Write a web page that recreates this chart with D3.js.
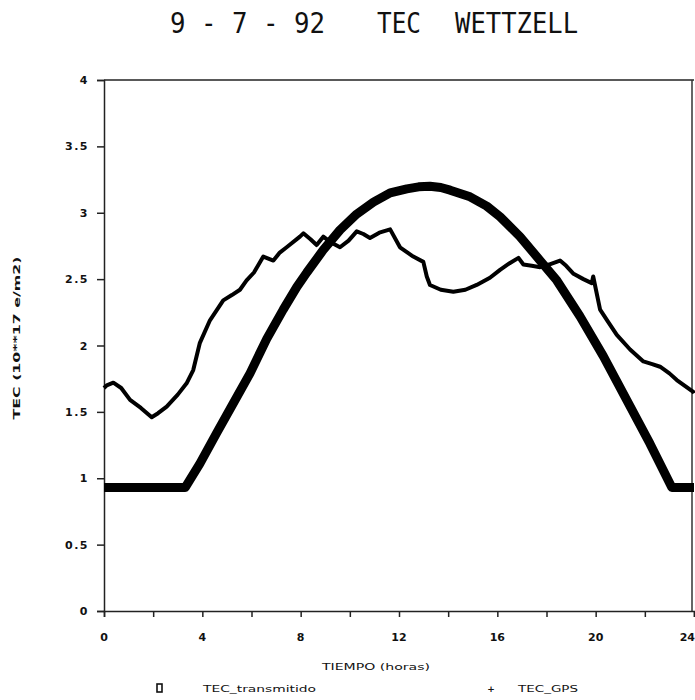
<!DOCTYPE html>
<html lang="es">
<head>
<meta charset="UTF-8">
<title>TEC WETTZELL</title>
<script src="https://d3js.org/d3.v7.min.js"></script>
<style>
  body { margin: 0; background: #fff; }
  text { fill: #111; }
</style>
</head>
<body>
<div id="chart"></div>
<script>
// TEC_transmitido (curva gruesa)
const horasTrans = [0, 3.3, 3.9, 4.58, 5.26, 5.94, 6.62, 7.29, 7.84, 8.25, 8.92, 9.6, 10.28, 10.96, 11.64, 12.32, 12.8, 13.26, 13.7, 14.08, 14.89, 15.57, 16.11, 16.92, 17.74, 18.42, 19.36, 20.31, 21.26, 22.21, 23.1, 24];
const tecTrans   = [0.93, 0.93, 1.11, 1.34, 1.565, 1.79, 2.05, 2.27, 2.44, 2.55, 2.72, 2.87, 2.99, 3.08, 3.15, 3.18, 3.195, 3.2, 3.19, 3.17, 3.12, 3.05, 2.97, 2.82, 2.64, 2.49, 2.22, 1.92, 1.59, 1.26, 0.93, 0.93];

// TEC_GPS (curva fina)
const horasGps = [0, 0.11, 0.38, 0.7, 1.06, 1.5, 1.94, 2.2, 2.55, 3.0, 3.36, 3.63, 3.9, 4.31, 4.6, 4.85, 5.2, 5.53, 5.8, 6.1, 6.48, 6.89, 7.15, 7.43, 7.97, 8.11, 8.4, 8.65, 8.92, 9.2, 9.6, 9.95, 10.28, 10.55, 10.82, 11.2, 11.64, 12.04, 12.58, 12.99, 13.13, 13.26, 13.7, 14.21, 14.7, 15.16, 15.7, 16.11, 16.5, 16.86, 17.06, 17.4, 17.74, 18.1, 18.55, 18.8, 19.1, 19.5, 19.84, 19.9, 20.18, 20.5, 20.86, 21.4, 21.94, 22.3, 22.62, 23.0, 23.3, 23.97, 24];
const tecGps   = [1.68, 1.70, 1.72, 1.68, 1.59, 1.53, 1.46, 1.49, 1.54, 1.63, 1.715, 1.815, 2.02, 2.19, 2.27, 2.34, 2.38, 2.42, 2.49, 2.55, 2.67, 2.64, 2.70, 2.74, 2.82, 2.845, 2.80, 2.757, 2.82, 2.78, 2.74, 2.79, 2.86, 2.84, 2.81, 2.85, 2.875, 2.74, 2.67, 2.63, 2.52, 2.456, 2.42, 2.405, 2.42, 2.456, 2.51, 2.57, 2.62, 2.66, 2.61, 2.60, 2.59, 2.61, 2.64, 2.60, 2.54, 2.50, 2.47, 2.52, 2.27, 2.18, 2.08, 1.97, 1.88, 1.86, 1.84, 1.79, 1.74, 1.65, 1.64];

const xTicksMayor = [0, 4, 8, 12, 16, 20, 24];
const xTicksMenor = [0, 2, 4, 6, 8, 10, 12, 14, 16, 18, 20, 22, 24];
const yTicks = [0, 0.5, 1, 1.5, 2, 2.5, 3, 3.5, 4];

const W = 695, H = 700;
const margen = { left: 104, right: 694, top: 80, bottom: 611 };

const svg = d3.select("#chart").append("svg")
  .attr("width", W).attr("height", H);

const x = d3.scaleLinear().domain([0, 24]).range([margen.left, margen.right]);
const y = d3.scaleLinear().domain([0, 4]).range([margen.bottom, margen.top]);

const fontEje = "'DejaVu Sans', sans-serif";

// titulo
const titulo = svg.append("g")
  .attr("font-family", "'DejaVu Sans Mono', monospace")
  .attr("font-size", 28);
titulo.append("text").attr("x", 170).attr("y", 33)
  .attr("textLength", 155).attr("lengthAdjust", "spacingAndGlyphs").text("9 - 7 - 92");
titulo.append("text").attr("x", 377).attr("y", 33)
  .attr("textLength", 44).attr("lengthAdjust", "spacingAndGlyphs").text("TEC");
titulo.append("text").attr("x", 455).attr("y", 33)
  .attr("textLength", 123).attr("lengthAdjust", "spacingAndGlyphs").text("WETTZELL");

// marco
svg.append("line").attr("x1", x(0)).attr("x2", x(24)).attr("y1", y(4)).attr("y2", y(4))
  .attr("stroke", "#222").attr("stroke-width", 1.5);
svg.append("line").attr("x1", x(24) - 2).attr("x2", x(24) - 2).attr("y1", y(4)).attr("y2", y(0))
  .attr("stroke", "#333").attr("stroke-width", 1.5);

// ejes
const ejeX = svg.append("g").attr("transform", `translate(0,${margen.bottom})`)
  .call(d3.axisBottom(x).tickValues(xTicksMenor).tickSize(6).tickFormat(""));
ejeX.call(g => g.select(".domain").attr("stroke", "#222").attr("stroke-width", 1.5));
ejeX.selectAll(".tick line").attr("stroke", "#222").attr("stroke-width", 1.5);

svg.append("g").selectAll("text").data(xTicksMayor).join("text")
  .attr("x", d => d === 24 ? W : x(d)).attr("y", 641)
  .attr("text-anchor", d => d === 24 ? "end" : "middle")
  .attr("font-family", fontEje).attr("font-size", 11).attr("font-weight", "bold")
  .text(d => d);

const ejeY = svg.append("g").attr("transform", `translate(${margen.left},0)`)
  .call(d3.axisLeft(y).tickValues(yTicks).tickSize(7).tickPadding(8)
    .tickFormat(d => d));
ejeY.call(g => g.select(".domain").attr("stroke", "#222").attr("stroke-width", 1.5));
ejeY.selectAll(".tick line").attr("stroke", "#222").attr("stroke-width", 1.5);
ejeY.selectAll(".tick text")
  .attr("font-family", fontEje).attr("font-size", 11).attr("font-weight", "bold")
  .attr("letter-spacing", 1.5).attr("fill", "#111");

// titulos de ejes
svg.append("text")
  .attr("transform", "translate(20,338) rotate(-90)")
  .attr("text-anchor", "middle")
  .attr("font-family", fontEje).attr("font-size", 9).attr("font-weight", "bold")
  .attr("textLength", 163).attr("lengthAdjust", "spacingAndGlyphs")
  .text("TEC (10**17 e/m2)");

svg.append("text")
  .attr("x", 376).attr("y", 670)
  .attr("text-anchor", "middle")
  .attr("font-family", fontEje).attr("font-size", 9)
  .attr("textLength", 108).attr("lengthAdjust", "spacingAndGlyphs")
  .text("TIEMPO (horas)");

// curvas
const datosTrans = horasTrans.map((h, i) => [h, tecTrans[i]]);
const datosGps = horasGps.map((h, i) => [h, tecGps[i]]);

const linea = d3.line().x(d => x(d[0])).y(d => y(d[1]));

svg.append("path").datum(datosGps)
  .attr("fill", "none").attr("stroke", "#000")
  .attr("stroke-width", 4).attr("stroke-linejoin", "round")
  .attr("d", linea);

svg.append("path").datum(datosTrans)
  .attr("fill", "none").attr("stroke", "#000")
  .attr("stroke-width", 9).attr("stroke-linejoin", "round")
  .attr("d", linea);

// leyenda
const ley = svg.append("g").attr("font-family", fontEje).attr("font-size", 9);
ley.append("rect").attr("x", 157).attr("y", 684).attr("width", 5).attr("height", 8)
  .attr("fill", "none").attr("stroke", "#111").attr("stroke-width", 1.6);
ley.append("text").attr("x", 203).attr("y", 692)
  .attr("textLength", 113).attr("lengthAdjust", "spacingAndGlyphs").text("TEC_transmitido");
ley.append("text").attr("x", 491).attr("y", 692).attr("text-anchor", "middle")
  .attr("font-weight", "bold").text("+");
ley.append("text").attr("x", 518).attr("y", 692)
  .attr("textLength", 60).attr("lengthAdjust", "spacingAndGlyphs").text("TEC_GPS");
</script>
</body>
</html>
